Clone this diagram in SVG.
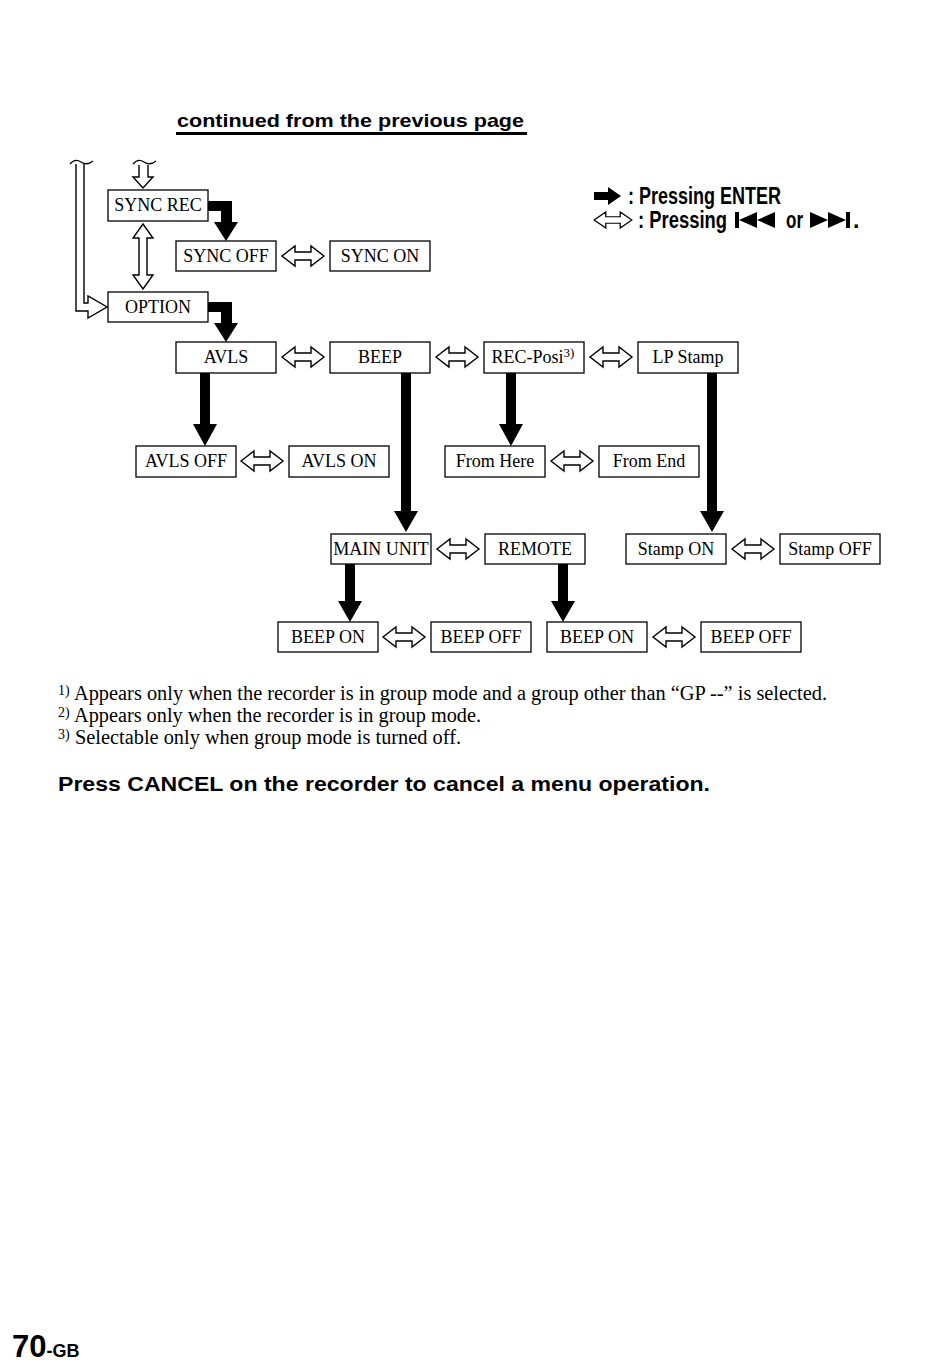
<svg xmlns="http://www.w3.org/2000/svg" xmlns:xlink="http://www.w3.org/1999/xlink" width="950" height="1368" viewBox="0 0 950 1368">
<style>
.box{fill:#fff;stroke:#000;stroke-width:1.3}
.lbl{font-family:"Liberation Serif","Times New Roman",serif;font-size:18px;text-anchor:middle;fill:#000}
.out{fill:#fff;stroke:#000;stroke-width:1.4;stroke-linejoin:miter}
.blk{fill:#000}
.fn{font-family:"Liberation Serif","Times New Roman",serif;font-size:20px;fill:#000}
.sup{font-size:13px}
.fsup{font-size:14px}
.leg{font-family:"Liberation Sans",Arial,sans-serif;font-weight:bold;font-size:23px;fill:#000}
</style>
<defs>
<path id="dbl" d="M-21,0 L-8,-10 V-4 H8 V-10 L21,0 L8,10 V4 H-8 V10 Z"/>
</defs>
<rect width="950" height="1368" fill="#fff"/>

<g id="heading">
<text x="177" y="127" font-family="Liberation Sans,Arial,sans-serif" font-weight="bold" font-size="19" textLength="347" lengthAdjust="spacingAndGlyphs">continued from the previous page</text>
<rect x="176" y="132" width="351" height="3" fill="#000"/>
</g>

<g id="legend">
<path class="blk" d="M594,192 H608 V187 L621,196 L608,205 V200 H594 Z"/>
<text class="leg" x="628" y="204" textLength="153" lengthAdjust="spacingAndGlyphs">: Pressing ENTER</text>
<use xlink:href="#dbl" class="out" transform="translate(613,220) scale(0.9,0.8)"/>
<text class="leg" x="638" y="228" textLength="89" lengthAdjust="spacingAndGlyphs">: Pressing</text>
<rect class="blk" x="735" y="212" width="4" height="16"/>
<path class="blk" d="M739,220 L757,212 V228 Z M757,220 L775,212 V228 Z"/>
<text class="leg" x="786" y="228" textLength="17" lengthAdjust="spacingAndGlyphs">or</text>
<path class="blk" d="M810,212 L828,220 L810,228 Z M828,212 L846,220 L828,228 Z"/>
<rect class="blk" x="846" y="212" width="4" height="16"/>
<text class="leg" x="853" y="228">.</text>
</g>

<g id="connectors">
<path class="out" d="M76,164 V311 H88 V318 L107,307 L88,296 V303 H84 V164"/>
<path fill="none" stroke="#000" stroke-width="1.3" d="M70,164 Q75,158 81,162 T93,161"/>
<path class="out" d="M139,165 V177 H133 L143,188 L153,177 H148 V165"/>
<path fill="none" stroke="#000" stroke-width="1.3" d="M133,164 Q138,158 144,162 T156,161"/>
<path class="out" d="M143,224 L153,238 H147 V275 H153 L143,289 L133,275 H139 V238 H133 Z"/>
<path class="blk" d="M208,201 H232 V222 H238 L226,241 L214,222 H221 V211 H208 Z"/>
<path class="blk" d="M208,302 H232 V323 H238 L226,342 L214,323 H221 V312 H208 Z"/>
<path class="blk" d="M200,373 H210 V424 H217 L205,446 L193,424 H200 Z"/>
<path class="blk" d="M401,373 H411 V511 H418 L406,532 L394,511 H401 Z"/>
<path class="blk" d="M506,373 H516 V424 H523 L511,446 L499,424 H506 Z"/>
<path class="blk" d="M707,373 H717 V511 H724 L712,532 L700,511 H707 Z"/>
<path class="blk" d="M345,564 H355 V601 H362 L350,622 L338,601 H345 Z"/>
<path class="blk" d="M558,564 H568 V601 H575 L563,622 L551,601 H558 Z"/>
<use xlink:href="#dbl" class="out" x="303" y="256"/>
<use xlink:href="#dbl" class="out" x="303" y="357"/>
<use xlink:href="#dbl" class="out" x="457" y="357"/>
<use xlink:href="#dbl" class="out" x="611" y="357"/>
<use xlink:href="#dbl" class="out" x="262" y="461"/>
<use xlink:href="#dbl" class="out" x="572" y="461"/>
<use xlink:href="#dbl" class="out" x="458" y="549"/>
<use xlink:href="#dbl" class="out" x="753" y="549"/>
<use xlink:href="#dbl" class="out" x="404" y="637"/>
<use xlink:href="#dbl" class="out" x="674" y="637"/>
</g>

<g id="n-syncrec"><rect class="box" x="108" y="190" width="100" height="31"/><text class="lbl" x="158" y="211">SYNC REC</text></g>
<g id="n-syncoff"><rect class="box" x="176" y="241" width="100" height="30"/><text class="lbl" x="226" y="262">SYNC OFF</text></g>
<g id="n-syncon"><rect class="box" x="330" y="241" width="100" height="30"/><text class="lbl" x="380" y="262">SYNC ON</text></g>
<g id="n-option"><rect class="box" x="108" y="292" width="100" height="30"/><text class="lbl" x="158" y="313">OPTION</text></g>
<g id="n-avls"><rect class="box" x="176" y="342" width="100" height="31"/><text class="lbl" x="226" y="363">AVLS</text></g>
<g id="n-beep"><rect class="box" x="330" y="342" width="100" height="31"/><text class="lbl" x="380" y="363">BEEP</text></g>
<g id="n-recposi"><rect class="box" x="484" y="342" width="100" height="31"/><text class="lbl" x="533" y="363">REC-Posi<tspan class="sup" dy="-6">3)</tspan></text></g>
<g id="n-lpstamp"><rect class="box" x="638" y="342" width="100" height="31"/><text class="lbl" x="688" y="363">LP Stamp</text></g>
<g id="n-avlsoff"><rect class="box" x="136" y="446" width="100" height="31"/><text class="lbl" x="186" y="467">AVLS OFF</text></g>
<g id="n-avlson"><rect class="box" x="289" y="446" width="100" height="31"/><text class="lbl" x="339" y="467">AVLS ON</text></g>
<g id="n-fromhere"><rect class="box" x="445" y="446" width="100" height="31"/><text class="lbl" x="495" y="467">From Here</text></g>
<g id="n-fromend"><rect class="box" x="599" y="446" width="100" height="31"/><text class="lbl" x="649" y="467">From End</text></g>
<g id="n-mainunit"><rect class="box" x="331" y="534" width="100" height="30"/><text class="lbl" x="381" y="555">MAIN UNIT</text></g>
<g id="n-remote"><rect class="box" x="485" y="534" width="100" height="30"/><text class="lbl" x="535" y="555">REMOTE</text></g>
<g id="n-stampon"><rect class="box" x="626" y="534" width="100" height="30"/><text class="lbl" x="676" y="555">Stamp ON</text></g>
<g id="n-stampoff"><rect class="box" x="780" y="534" width="100" height="30"/><text class="lbl" x="830" y="555">Stamp OFF</text></g>
<g id="n-beepon1"><rect class="box" x="278" y="622" width="100" height="30"/><text class="lbl" x="328" y="643">BEEP ON</text></g>
<g id="n-beepoff1"><rect class="box" x="431" y="622" width="100" height="30"/><text class="lbl" x="481" y="643">BEEP OFF</text></g>
<g id="n-beepon2"><rect class="box" x="547" y="622" width="100" height="30"/><text class="lbl" x="597" y="643">BEEP ON</text></g>
<g id="n-beepoff2"><rect class="box" x="701" y="622" width="100" height="30"/><text class="lbl" x="751" y="643">BEEP OFF</text></g>

<g id="footnotes">
<text class="fn fsup" x="58" y="695">1)</text>
<text class="fn" x="74" y="700" textLength="753" lengthAdjust="spacingAndGlyphs">Appears only when the recorder is in group mode and a group other than “GP --” is selected.</text>
<text class="fn fsup" x="58" y="717">2)</text>
<text class="fn" x="74" y="722" textLength="407" lengthAdjust="spacingAndGlyphs">Appears only when the recorder is in group mode.</text>
<text class="fn fsup" x="58" y="739">3)</text>
<text class="fn" x="75" y="744" textLength="386" lengthAdjust="spacingAndGlyphs">Selectable only when group mode is turned off.</text>
<text x="58" y="791" font-family="Liberation Sans,Arial,sans-serif" font-weight="bold" font-size="21" textLength="652" lengthAdjust="spacingAndGlyphs">Press CANCEL on the recorder to cancel a menu operation.</text>
</g>

<g id="pagenum">
<text x="12" y="1357" font-family="Liberation Sans,Arial,sans-serif" font-weight="bold" font-size="31">70<tspan font-size="18">-GB</tspan></text>
</g>
</svg>
